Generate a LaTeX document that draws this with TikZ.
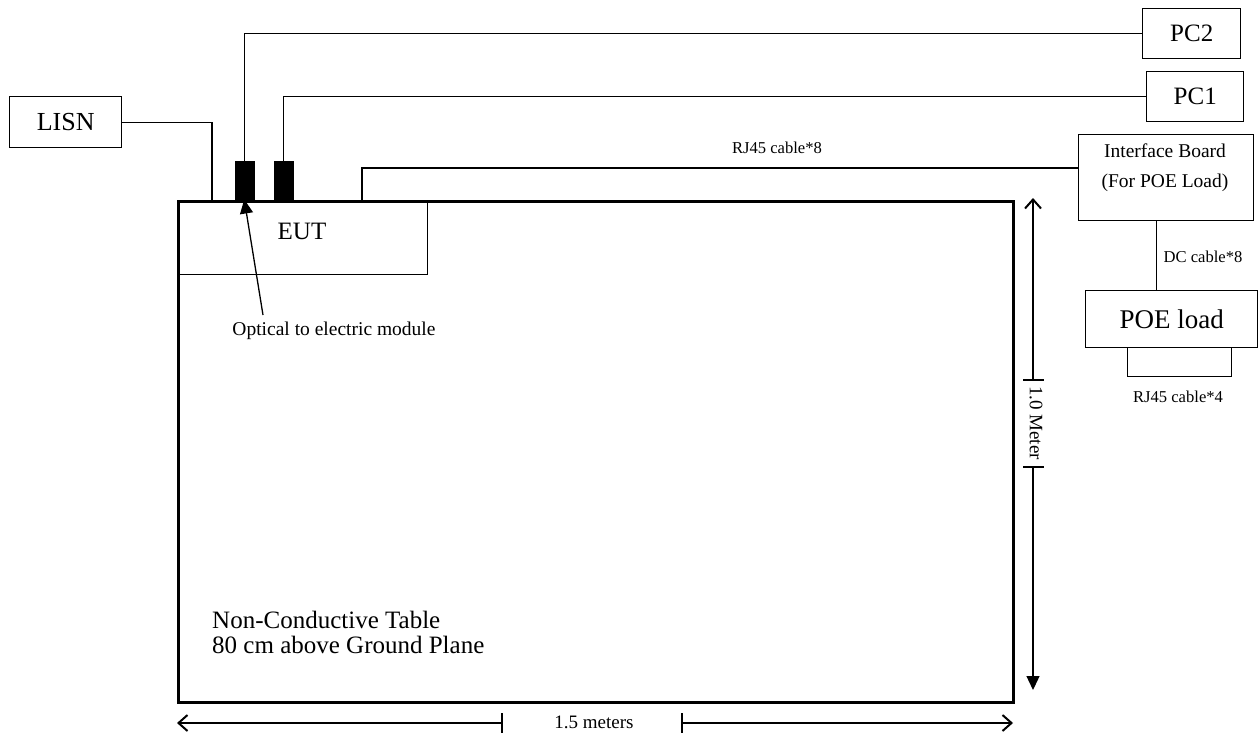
\documentclass[tikz,border=0pt]{standalone}
\usepackage{fontspec}
\setmainfont{Liberation Serif}
\usetikzlibrary{arrows.meta}
\begin{document}
\begin{tikzpicture}[x=1pt,y=-1pt,
  box/.style={draw,line width=1.4pt,inner sep=0pt,anchor=north west},
  blk/.style={fill=black,draw=black,line width=0.5pt,inner sep=0pt,anchor=north west,minimum width=19pt,minimum height=38pt},
  wire/.style={line width=1.4pt},
  txt/.style={inner sep=0pt},
  big/.style={font=\fontsize{25}{28}\selectfont},
  mid/.style={font=\fontsize{19.5}{30}\selectfont},
  sml/.style={font=\fontsize{16.6}{20}\selectfont},
  barb/.style={line width=1.3pt,-{Straight Barb[length=9pt,width=16pt,line width=2pt]}},
  tri/.style={line width=1.3pt,-{Triangle[length=14pt,width=13pt]}},
  dimtick/.style={line width=1.3pt}]
\useasboundingbox (0,0) rectangle (1260,736);

% table and EUT
\node[draw,line width=3pt,inner sep=0pt,anchor=north west,minimum width=835pt,minimum height=501pt] (table) at (177,200) {};
\node[box,minimum width=248pt,minimum height=74pt] (eut) at (179,200) {};
\node[txt,big] (euttext) at (302,231) {EUT};
\node[txt,big,align=left,anchor=west,font=\fontsize{25}{25}\selectfont] (tabletext) at (212,632) {Non-Conductive Table\\80 cm above Ground Plane};

% peripheral boxes
\node[box,minimum width=112pt,minimum height=51pt,font=\fontsize{26}{30}\selectfont] (lisn) at (9,96) {LISN};
\node[box,minimum width=98pt,minimum height=50pt,big] (pc2) at (1142,8) {PC2};
\node[box,minimum width=97pt,minimum height=50pt,big] (pc1) at (1146,71) {PC1};
\node[box,minimum width=175pt,minimum height=86pt] (ib) at (1078,134) {};
\node[txt,mid,align=center] (ibtext) at (1165,168) {Interface Board\\(For POE Load)};
\node[box,minimum width=172pt,minimum height=57pt,font=\fontsize{27}{30}\selectfont] (poe) at (1085,290) {POE load};

% optical modules
\node[blk] (b1) at (234.5,161) {};
\node[blk] (b2) at (273.5,161) {};

% wires
\coordinate (lisnin) at (212,200);
\coordinate (rjout) at (362,200);
\draw[wire] (lisn.east) -| (lisnin);
\draw[wire] (b1.north) |- (pc2.west);
\draw[wire] (b2.north) |- (pc1.west);
\draw[wire] (rjout) |- ([yshift=-34pt]ib.north west);
\draw[wire] ([xshift=-10pt]ib.south) -- ([xshift=-10pt]ib.south |- poe.north);
\coordinate (u1) at ([xshift=-44pt]poe.south);
\coordinate (u2) at ([xshift=60pt]poe.south);
\draw[wire] (u1) -- ++(0,28) -| (u2);

% cable labels
\node[txt,sml] (rj8) at (777,148) {RJ45 cable*8};
\node[txt,sml] (dc8) at (1203,257) {DC cable*8};
\node[txt,sml] (rj4) at (1178,397) {RJ45 cable*4};

% optical arrow
\coordinate (optail) at (263,315);
\draw[tri] (optail) -- (b1.south);
\node[txt,mid] (optext) at (334,331) {Optical to electric module};

% horizontal dimension
\coordinate (hl) at (177,723);
\coordinate (hr) at (1013,723);
\coordinate (ht1) at (502,723);
\coordinate (ht2) at (682,723);
\draw[barb] (ht1) -- (hl);
\draw[barb] (ht2) -- (hr);
\draw[dimtick] ([yshift=10pt]ht1) -- ([yshift=-10pt]ht1);
\draw[dimtick] ([yshift=10pt]ht2) -- ([yshift=-10pt]ht2);
\node[txt,font=\fontsize{19}{22}\selectfont] (hlabel) at (594,722) {1.5 meters};

% vertical dimension
\coordinate (vt) at (1033,198);
\coordinate (vb) at (1033,690);
\coordinate (vt1) at (1033,380);
\coordinate (vt2) at (1033,467);
\draw[barb] (vt1) -- (vt);
\draw[tri] (vt2) -- (vb);
\draw[dimtick] ([xshift=-10pt]vt1) -- ([xshift=11pt]vt1);
\draw[dimtick] ([xshift=-10pt]vt2) -- ([xshift=11pt]vt2);
\node[txt,font=\fontsize{19}{22}\selectfont,rotate=-90] (vlabel) at (1036,423) {1.0 Meter};
\end{tikzpicture}
\end{document}
